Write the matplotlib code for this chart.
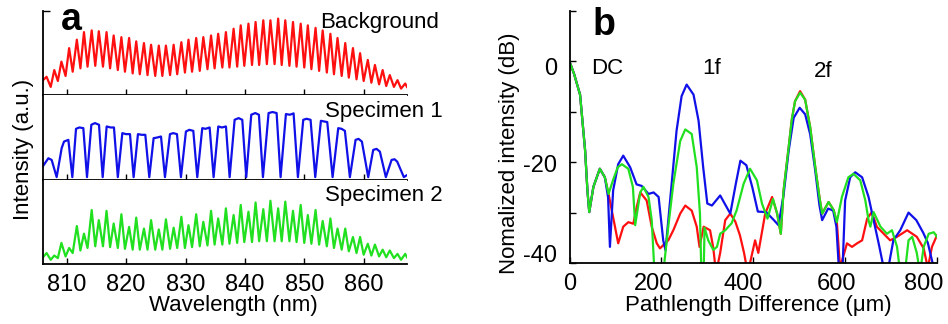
import numpy as np
import matplotlib
matplotlib.use("Agg")
import matplotlib.pyplot as plt
from matplotlib.ticker import FixedFormatter
from matplotlib.transforms import ScaledTranslation

plt.rcParams['font.family'] = ['Liberation Sans', 'DejaVu Sans']
plt.rcParams['axes.unicode_minus'] = False

# ---- panel a: spectra, heights in % of each strip ----
peak_nm = [806.6, 807.9, 809.1, 810.4, 811.7, 812.9, 814.2, 815.4, 816.7, 817.9,
           819.2, 820.5, 821.7, 823.0, 824.2, 825.5, 826.7, 828.0, 829.3, 830.5,
           831.8, 833.0, 834.3, 835.5, 836.8, 838.1, 839.3, 840.6, 841.8, 843.1,
           844.3, 845.6, 846.8, 848.1, 849.4, 850.6, 851.9, 853.1, 854.4, 855.6,
           856.9, 858.2, 859.4, 860.7, 861.9, 863.2, 864.4, 865.7, 867.0]
trough_nm = [807.3, 808.5, 809.8, 811.0, 812.3, 813.5, 814.8, 816.1, 817.3, 818.6,
             819.8, 821.1, 822.3, 823.6, 824.9, 826.1, 827.4, 828.6, 829.9, 831.1,
             832.4, 833.7, 834.9, 836.2, 837.4, 838.7, 839.9, 841.2, 842.4, 843.7,
             845.0, 846.2, 847.5, 848.7, 850.0, 851.2, 852.5, 853.8, 855.0, 856.3,
             857.5, 858.8, 860.0, 861.3, 862.6, 863.8, 865.1, 866.3]
end_nm = [806.0, 867.3]

bg_peaks = [22, 30, 40, 56, 66, 75, 77, 76, 75, 71, 69, 68, 64, 62, 60, 59, 59, 60, 63, 66,
            68, 69, 71, 73, 75, 79, 83, 85, 87, 89, 89, 91, 89, 87, 85, 83, 80, 77, 73, 68,
            62, 56, 50, 42, 36, 30, 24, 18, 14]
bg_troughs = [10, 17, 23, 28, 32, 34, 35, 34, 32, 30, 28, 26, 25, 24, 23, 23, 24, 25, 27, 28,
              29, 31, 32, 33, 33, 34, 35, 36, 36, 37, 37, 36, 35, 34, 33, 31, 29, 27, 25, 23,
              21, 19, 17, 15, 13, 11, 10, 8]
bg_ends = [18, 10]

s2_peaks = [13, 10, 25, 19, 45, 36, 64, 52, 63, 48, 59, 44, 55, 42, 52, 41, 53, 43, 56, 46,
            59, 50, 63, 54, 66, 58, 70, 62, 73, 65, 75, 66, 74, 63, 70, 58, 64, 51, 54, 42,
            42, 32, 32, 24, 23, 17, 16, 12, 12]
s2_troughs = [5, 7, 9, 13, 16, 19, 21, 21, 20, 19, 18, 17, 17, 17, 17, 17, 18, 19, 19, 20,
              21, 22, 23, 23, 24, 25, 26, 26, 27, 27, 27, 27, 27, 26, 25, 24, 23, 21, 19, 17,
              15, 13, 11, 10, 9, 8, 7, 5]
s2_ends = [8, 8]

s1_nm = [805.94, 806.9, 807.46, 808.3, 809.14, 809.54, 810.27, 810.94, 811.56, 812.12,
         812.79, 813.41, 814.14, 814.75, 815.43, 816.05, 816.72, 817.39, 817.95, 818.6,
         819.36, 819.97, 820.65, 821.26, 821.99, 822.61, 823.23, 823.9, 824.63, 825.25,
         825.87, 826.54, 827.38, 827.94, 828.56, 829.23, 830.07, 830.63, 831.31, 831.98,
         832.82, 833.38, 834.06, 834.73, 835.52, 836.13, 836.81, 837.43, 838.27, 838.94,
         839.56, 840.23, 841.07, 841.75, 842.36, 843.04, 843.99, 844.66, 845.34, 846.01,
         846.91, 847.58, 848.2, 848.93, 849.83, 850.39, 851.06, 851.85, 852.8, 853.36,
         853.87, 854.77, 855.72, 856.28, 856.84, 857.68, 858.64, 859.14, 859.7, 860.77,
         861.61, 862.17, 862.73, 863.74, 864.7, 865.2, 865.65, 866.77, 867.2]
s1_val = [15.5, 25.4, 23.4, 3, 37.3, 45.2, 47.2, 3, 60.3, 61.9,
          61.1, 3, 65.1, 67.1, 65.1, 3, 63.1, 61.9, 61.9, 3,
          55.2, 54.0, 54.0, 3, 54.0, 53.2, 53.2, 3, 49.2, 50.0,
          51.2, 3, 54.0, 55.2, 54.0, 3, 57.1, 59.1, 57.9, 3,
          61.1, 60.3, 61.9, 3, 63.1, 61.9, 63.1, 3, 71.0, 73.0,
          71.0, 3, 77.0, 79.0, 77.0, 3, 79.0, 80.2, 79.0, 3,
          77.8, 77.0, 78.6, 3, 71.0, 72.2, 71.0, 3, 69.8, 69.0,
          68.3, 3, 61.1, 60.3, 57.9, 3, 47.2, 48.4, 45.2, 3,
          35.3, 36.5, 33.3, 3, 23.4, 24.2, 21.4, 3, 5]

# ---- panel b: depth profiles (dB) ----
bg_um = [0, 10, 23, 34, 39, 43, 52, 66, 77, 85, 99, 106, 117, 128, 139, 146, 154, 168, 179, 190,
         197, 208, 215, 226, 241, 252, 266, 277, 283, 292, 306, 313, 319, 328, 339, 350, 361, 371,
         380, 386, 393, 404, 411, 426, 441, 452, 460, 466, 477, 484, 491, 502, 513, 524, 535, 544,
         550, 564, 575, 582, 589, 595, 604, 615, 626, 637, 648, 658, 669, 684, 698, 713, 735, 756,
         771, 780, 789, 800]
bg_db = [0, -2.5, -6.6, -17.7, -25.6, -29.9, -24.9, -21.3, -23.0, -26.3, -32.8, -36.1, -32.8,
         -31.9, -32.2, -29.0, -26.0, -27.6, -32.8, -36.1, -37.1, -36.1, -35.5, -33.5, -30.2, -28.6,
         -29.6, -32.8, -36.8, -32.8, -33.5, -37.0, -42, -38, -31.5, -30.2, -31.8, -34.5, -38, -41,
         -40, -35.5, -38, -30.2, -26.9, -30.2, -34.2, -25.6, -17.1, -11.5, -7.9, -5.9, -7.6, -13.1,
         -21.0, -26.9, -30.2, -27.9, -29.5, -31.9, -41, -39, -36.1, -36.8, -36.1, -35.5, -31.2,
         -29.9, -32.8, -34.2, -35.5, -34.8, -33.5, -34.8, -37.1, -41, -36.8, -34.5]

s1_um = [0, 10, 23, 34, 39, 43, 52, 66, 77, 84, 88, 95, 106, 117, 132, 146, 157, 172, 183, 194,
         204, 209, 219, 233, 244, 255, 270, 281, 291, 300, 310, 328, 342, 350, 362, 372, 385, 398,
         410, 428, 445, 455, 466, 477, 488, 501, 513, 524, 535, 544, 550, 563, 574, 581, 587, 594,
         600, 611, 622, 637, 651, 662, 673, 684, 694, 705, 720, 738, 755, 770, 780, 793, 800]
s1_db = [0, -2.5, -6.6, -17.7, -25.6, -29.9, -24.9, -21.3, -23.0, -27.0, -36.8, -25.6, -20.4,
         -18.7, -21.0, -24.4, -24.7, -26.3, -26.0, -26.9, -35.5, -37.5, -27.6, -13.8, -6.9, -4.6,
         -6.6, -11.8, -21.0, -28.2, -28.6, -26.6, -28.9, -30.2, -24.3, -19.7, -20.6, -25.0, -29.8,
         -29.9, -31.5, -32.5, -26.5, -17.8, -11.2, -9.2, -10.5, -14.5, -21.7, -28.5, -31.5, -29.2,
         -29.6, -32.8, -42, -42, -27.6, -23.0, -22.0, -23.0, -26.9, -31.5, -36.1, -41, -41, -35.5,
         -33.5, -30.0, -31.5, -34.0, -36.0, -41, -42]

s2_um = [0, 10, 23, 34, 39, 43, 52, 66, 77, 85, 95, 105, 114, 128, 138, 143, 154, 161, 172, 179,
         185, 204, 215, 226, 241, 252, 266, 277, 284, 287, 292, 294, 302, 313, 321, 328, 339, 353,
         364, 379, 393, 408, 419, 431, 443, 452, 460, 466, 477, 484, 491, 502, 513, 524, 535, 544,
         550, 564, 575, 582, 593, 607, 618, 633, 644, 651, 655, 662, 677, 691, 702, 713, 720, 730,
         738, 746, 756, 763, 771, 782, 793, 800]
s2_db = [0, -2.5, -6.6, -17.7, -25.6, -29.9, -24.9, -21.3, -23.0, -26.3, -23.5, -21.0, -20.4,
         -21.3, -24.9, -32.5, -26.0, -24.9, -26.9, -31.5, -42, -42, -32.8, -24.3, -15.8, -13.5,
         -14.4, -21.0, -30.2, -42, -42, -33.0, -35.5, -37.4, -36.8, -34.2, -33.5, -32.1, -29.5,
         -24.3, -21.3, -23.6, -28.2, -31.2, -27.3, -30.2, -34.2, -25.6, -17.1, -11.5, -7.9, -6.2,
         -7.6, -13.1, -21.0, -26.9, -30.2, -27.9, -29.5, -31.9, -26.9, -23.0, -22.3, -23.6, -27.6,
         -31.5, -32.8, -29.9, -32.8, -34.2, -33.5, -36.8, -42, -42, -35.5, -34.8, -38, -42, -36.8,
         -34.2, -33.9, -34.8]

RED, BLUE, GREEN = '#ff1010', '#1010e8', '#20e020'


def fringe_trace(peaks, troughs, ends):
    # zigzag through start, peak/trough pairs and end point
    x = [end_nm[0]]
    y = [ends[0]]
    for i, (pn, pv) in enumerate(zip(peak_nm, peaks)):
        x.append(pn)
        y.append(pv)
        if i < len(troughs):
            x.append(trough_nm[i])
            y.append(troughs[i])
    x.append(end_nm[1])
    y.append(ends[1])
    return np.array(x), np.array(y)


def nudge(label, dx_px, dy_px):
    off = ScaledTranslation(dx_px / 100.0, -dy_px / 100.0, fig.dpi_scale_trans)
    label.set_transform(label.get_transform() + off)


fig = plt.figure(figsize=(9.48, 3.24), dpi=100)
W, H = 948.0, 324.0

strip_h = 84.33
traces = [fringe_trace(bg_peaks, bg_troughs, bg_ends),
          (np.array(s1_nm), np.array(s1_val)),
          fringe_trace(s2_peaks, s2_troughs, s2_ends)]
colors = [RED, BLUE, GREEN]
for i, ((x, y), c) in enumerate(zip(traces, colors)):
    bottom = 60 + (2 - i) * strip_h
    ax = fig.add_axes([43 / W, bottom / H, 364 / W, strip_h / H])
    ax.plot(x, y, color=c, lw=1.6)
    ax.set_xlim(806.0, 867.3)
    ax.set_ylim(0, 100)
    for s in ('top', 'right'):
        ax.spines[s].set_visible(False)
    for s in ('left', 'bottom'):
        ax.spines[s].set_linewidth(1.3)
    ax.set_xticks([810, 820, 830, 840, 850, 860])
    ax.tick_params(axis='x', direction='in', length=4, width=1, labelsize=17, pad=7,
                   labelbottom=(i == 2))
    if i == 0:
        ax.set_yticks([100])
        ax.tick_params(axis='y', direction='in', length=5, width=1, labelleft=False)
    else:
        ax.set_yticks([])

fig.text(320 / W, 1 - 28 / H, 'Background', fontsize=16, va='baseline')
fig.text(325 / W, 1 - 117 / H, 'Specimen 1', fontsize=16, va='baseline')
fig.text(325 / W, 1 - 201 / H, 'Specimen 2', fontsize=16, va='baseline')
fig.text(61 / W, 1 - 30 / H, 'a', fontsize=27, fontweight='bold', va='baseline')
fig.text(23 / W, 1 - 149 / H, 'Intensity (a.u.)', rotation=90, fontsize=16,
         ha='center', va='center')
fig.text(233 / W, 1 - 305 / H, 'Wavelength (nm)', fontsize=16, ha='center', va='center')

# panel b
axb = fig.add_axes([569.5 / W, 61 / H, 367.5 / W, 252 / H])
axb.plot(bg_um, bg_db, color=RED, lw=1.6)
axb.plot(s1_um, s1_db, color=BLUE, lw=1.6)
axb.plot(s2_um, s2_db, color=GREEN, lw=1.6)
axb.set_xlim(0, 800)
axb.set_ylim(-40, 10)
for s in ('top', 'right'):
    axb.spines[s].set_visible(False)
for s in ('left', 'bottom'):
    axb.spines[s].set_linewidth(1.3)
axb.set_xticks([0, 200, 400, 600, 800])
axb.set_yticks([-40, -30, -20, -10, 0, 10])
axb.yaxis.set_major_formatter(FixedFormatter(['-40', '', '-20', '', '0', '']))
axb.tick_params(direction='in', length=4, width=1, labelsize=17)
axb.tick_params(axis='x', pad=7)
axb.tick_params(axis='y', pad=9)

# tick labels sit slightly off their ticks
for lab, dx in zip(axb.get_xticklabels(), [0, -8, -10, -9, -13]):
    nudge(lab, dx, 0)
for lab, dy in zip(axb.get_yticklabels(), [-9, 0, 1, 0, 5, 0]):
    nudge(lab, 0, dy)

axb.text(82, -1.5, 'DC', fontsize=16, ha='center', va='center')
axb.text(310, -1.5, '1f', fontsize=16, ha='center', va='center')
axb.text(552, -2.1, '2f', fontsize=16, ha='center', va='center')

fig.text(593 / W, 1 - 35 / H, 'b', fontsize=27, fontweight='bold', va='baseline')
fig.text(509 / W, 1 - 153 / H, 'Nomalized intensity (dB)', rotation=90, fontsize=16,
         ha='center', va='center')
fig.text(758 / W, 1 - 305 / H, 'Pathlength Difference (μm)', fontsize=16,
         ha='center', va='center')

fig.savefig('out.png', dpi=100)
